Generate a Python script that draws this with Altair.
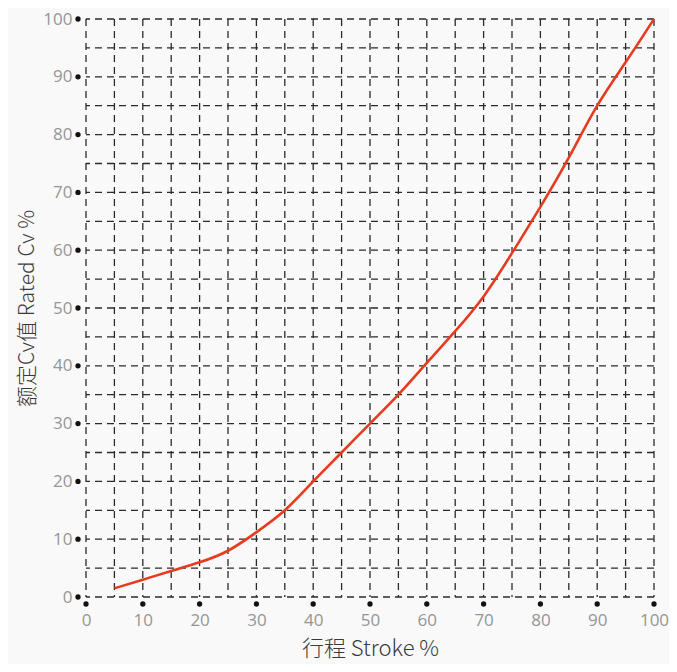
import altair as alt
import pandas as pd

stroke = [5, 10, 15, 20, 25, 30, 35, 40, 45, 50, 55, 60, 65, 70, 75, 80, 85, 90, 95, 100]
cv = [1.5, 3, 4.5, 6, 8, 11.2, 15, 20, 25, 30, 35, 40.5, 46, 52, 59.5, 67.5, 76, 85, 92.5, 100]
grid_values = list(range(0, 101, 5))
tick_values = list(range(0, 101, 10))

curve = pd.DataFrame({"stroke": stroke, "cv": cv})
ticks = pd.DataFrame({"v": tick_values})
grid = pd.DataFrame({"g": grid_values})

xscale = alt.Scale(domain=[0, 100], nice=False, zero=False)
yscale = alt.Scale(domain=[0, 100], nice=False, zero=False)

label_font = "Open Sans"
title_font = "Noto Sans CJK SC"

xaxis = alt.Axis(values=tick_values, ticks=False, domain=False, grid=False, labelFlush=False,
                 labelPadding=15, labelFontSize=17, labelColor="#959595", labelFont=label_font,
                 title="行程 Stroke %", titleFontSize=22, titleFontWeight=300, titleColor="#3a3a3a",
                 titleFont=title_font, titlePadding=10)
yaxis = alt.Axis(values=tick_values, ticks=False, domain=False, grid=False,
                 labelPadding=14, labelFontSize=17, labelColor="#959595", labelFont=label_font,
                 title="额定Cv值 Rated Cv %", titleFontSize=21, titleFontWeight=300, titleColor="#3a3a3a",
                 titleFont=title_font, titlePadding=5)

grid_style = dict(color="#2a2a2a", strokeWidth=1.3, strokeDash=[7, 5])

vgrid = alt.Chart(grid).mark_rule(**grid_style).encode(
    x=alt.X("g:Q", scale=xscale, axis=xaxis),
)
hgrid = alt.Chart(grid).mark_rule(**grid_style).encode(
    y=alt.Y("g:Q", scale=yscale, axis=yaxis),
)

line = alt.Chart(curve).mark_line(color="#e63b1e", strokeWidth=2.6, interpolate="natural").encode(
    x=alt.X("stroke:Q", scale=xscale),
    y=alt.Y("cv:Q", scale=yscale),
)

ydots = alt.Chart(ticks).mark_circle(color="#111111", size=28, opacity=1, clip=False, xOffset=-8).encode(
    x=alt.datum(0, scale=xscale),
    y=alt.Y("v:Q", scale=yscale),
)
xdots = alt.Chart(ticks).mark_circle(color="#111111", size=28, opacity=1, clip=False, yOffset=7).encode(
    x=alt.X("v:Q", scale=xscale),
    y=alt.datum(0, scale=yscale),
)

chart = alt.layer(vgrid, hgrid, line, ydots, xdots).properties(
    width=568, height=578,
    autosize=alt.AutoSizeParams(type="none"),
    padding={"left": 78, "top": 11, "right": 15, "bottom": 67},
    background="#f9f9f9",
).configure_view(stroke=None)

chart.save("out.html", embed_options={"renderer": "svg", "actions": False})
